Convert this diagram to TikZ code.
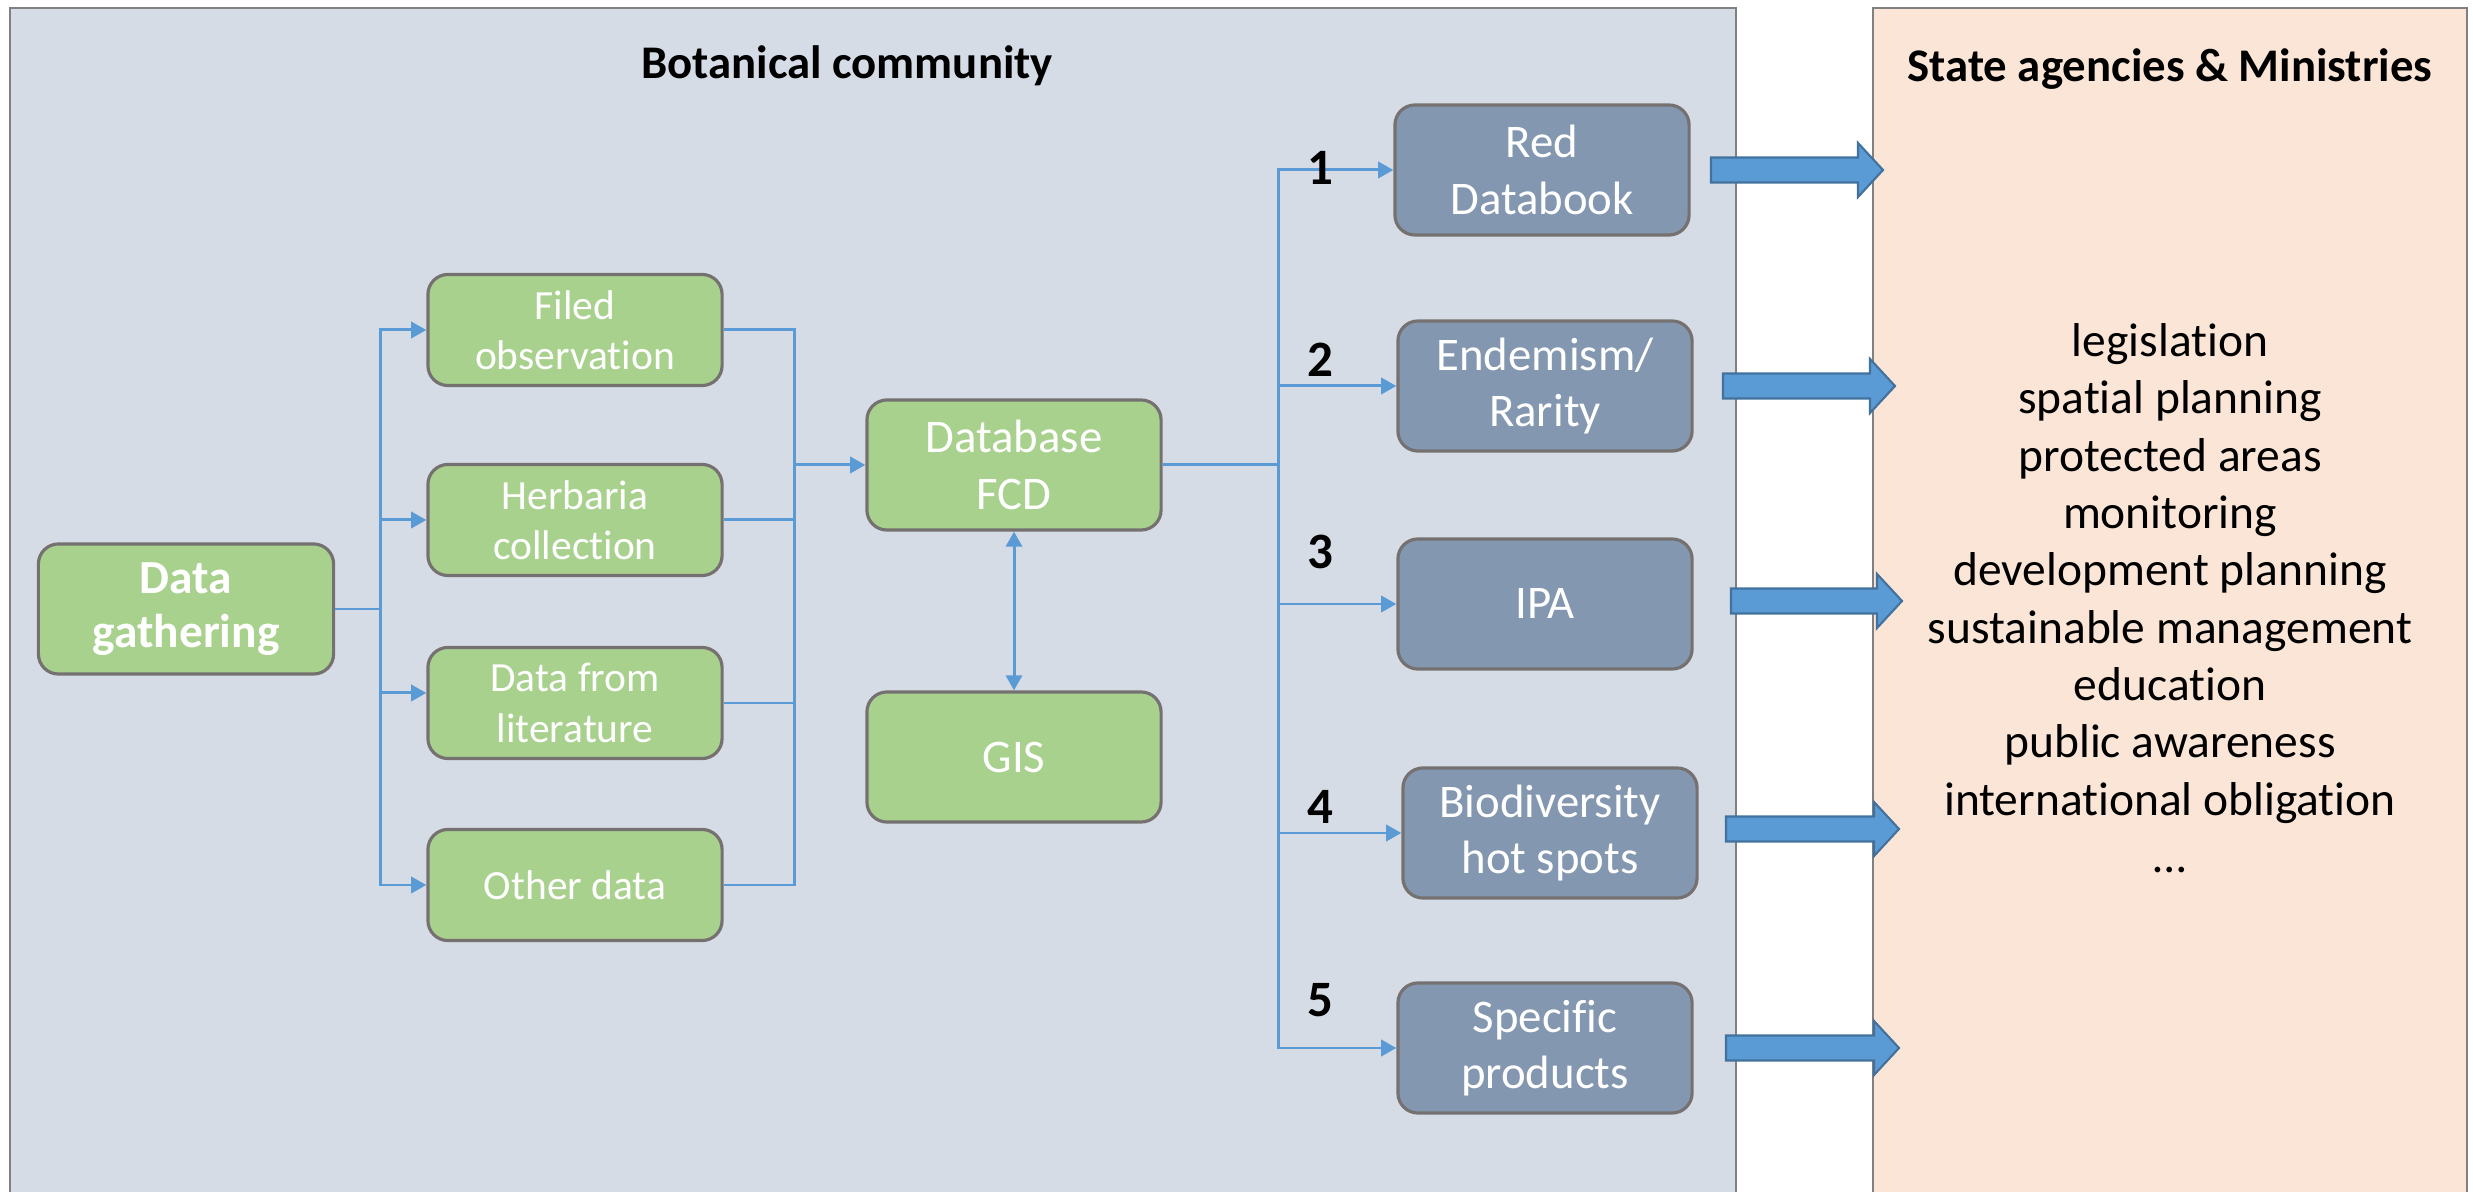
\documentclass[tikz,border=0pt]{standalone}
\usepackage{fontspec}
\setmainfont{Carlito}[RawFeature={-liga;-clig;-calt;-dlig}]
\usetikzlibrary{arrows.meta,calc}
\definecolor{panelA}{HTML}{D6DCE5}
\definecolor{panelB}{HTML}{FBE5D6}
\definecolor{boxG}{HTML}{A9D18E}
\definecolor{boxB}{HTML}{8497B0}
\definecolor{edgeC}{HTML}{767171}
\definecolor{connC}{HTML}{5B9BD5}
\definecolor{arrowE}{HTML}{41719C}
\definecolor{panelE}{HTML}{808080}
\begin{document}
\begin{tikzpicture}[x=0.01cm,y=-0.01cm,
  box/.style={draw=edgeC, line width=0.9pt, rounded corners=2mm, minimum width=2.94cm, minimum height=1.30cm, text=white, align=center, inner sep=0pt},
  gbox/.style={box, fill=boxG, font=\fontsize{13.3}{16}\selectfont},
  bbox/.style={box, fill=boxB, font=\fontsize{13.3}{16}\selectfont},
  srcbox/.style={box, fill=boxG, minimum height=1.11cm, font=\fontsize{11.8}{14.3}\selectfont},
  connline/.style={draw=connC, line width=0.85pt},
  arr/.style={connline, -{Triangle[length=4.3pt,width=4.6pt]}},
  numlab/.style={font=\bfseries\fontsize{14.5}{16}\selectfont},
  blockarr/.style={fill=connC, draw=arrowE, line width=0.6pt},
  titlelab/.style={font=\bfseries\fontsize{13.3}{16}\selectfont}]
\useasboundingbox (0,0) rectangle (2473,1192);
\clip (0,0) rectangle (2473,1192);
% panels
\filldraw[fill=panelA, draw=panelE, line width=0.8pt] (10,8) rectangle (1736,1230);
\filldraw[fill=panelB, draw=panelE, line width=0.8pt] (1873,8) rectangle (2467,1230);
\node[titlelab] (t1) at (847,66) {Botanical community};
\node[titlelab] (t2) at (2170,69) {State agencies \& Ministries};
% nodes
\node[box, fill=boxG, minimum width=2.95cm, font=\bfseries\fontsize{13.5}{15.5}\selectfont] (dg) at (186,609) {Data\\gathering};
\node[srcbox] (fo) at (575,330) {Filed\\observation};
\node[srcbox] (hc) at (575,520) {Herbaria\\collection};
\node[srcbox] (dl) at (575,703) {Data from\\literature};
\node[srcbox] (od) at (575,885) {Other data};
\node[gbox] (db) at (1014,465) {Database\\FCD};
\node[gbox] (gis) at (1014,757) {GIS};
\node[bbox] (rd) at (1542,170) {Red\\Databook};
\node[bbox] (en) at (1545,386) {Endemism/\\Rarity};
\node[bbox] (ipa) at (1545,604) {IPA};
\node[bbox] (bio) at (1550,833) {Biodiversity\\hot spots};
\node[bbox] (sp) at (1545,1048) {Specific\\products};
% connectors: gathering
\coordinate (sj) at (380,609);
\draw[connline] (dg.east) -- (sj);
\draw[arr] (sj) |- (fo.west);
\draw[arr] (sj) |- (hc.west);
\draw[arr] (sj) |- ([yshift=0.1cm]dl.west);
\draw[arr] (sj) |- (od.west);
% merge
\coordinate (mj) at (794,465);
\draw[connline] (fo.east) -| (mj);
\draw[connline] (hc.east) -| (mj);
\draw[connline] (dl.east) -| (mj);
\draw[connline] (od.east) -| (mj);
\draw[arr] (mj) -- (db.west);
% GIS
\draw[connline, {Triangle[length=4.3pt,width=4.6pt]}-{Triangle[length=4.3pt,width=4.6pt]}] (db.south) -- (gis.north);
% outputs
\coordinate (oj) at (1278,465);
\draw[connline] (db.east) -- (oj);
\draw[arr] (oj) |- (rd.west);
\draw[arr] (oj) |- (en.west);
\draw[arr] (oj) |- (ipa.west);
\draw[arr] (oj) |- (bio.west);
\draw[arr] (oj) |- (sp.west);
\node[numlab] (n1) at (1320,168) {1};
\node[numlab] (n2) at (1320,360) {2};
\node[numlab] (n3) at (1320,552) {3};
\node[numlab] (n4) at (1320,807) {4};
\node[numlab] (n5) at (1320,1000) {5};
% block arrows
\foreach \xa/\xb/\yy in {1711/1883/170, 1723/1895/386, 1731/1902/601, 1726/1899/829, 1726/1899/1048}{
  \filldraw[blockarr] (\xa,\yy-12.5) -- (\xb-25,\yy-12.5) -- (\xb-25,\yy-27) -- (\xb,\yy) -- (\xb-25,\yy+27) -- (\xb-25,\yy+12.5) -- (\xa,\yy+12.5) -- cycle;
}
% list
\node[align=center, inner sep=0pt, anchor=north, font=\fontsize{13.5}{16.3}\selectfont] (lst) at (2170,323) {legislation\\spatial planning\\protected areas\\monitoring\\development planning\\sustainable management\\education\\public awareness\\international obligation\\…};
\end{tikzpicture}
\end{document}
